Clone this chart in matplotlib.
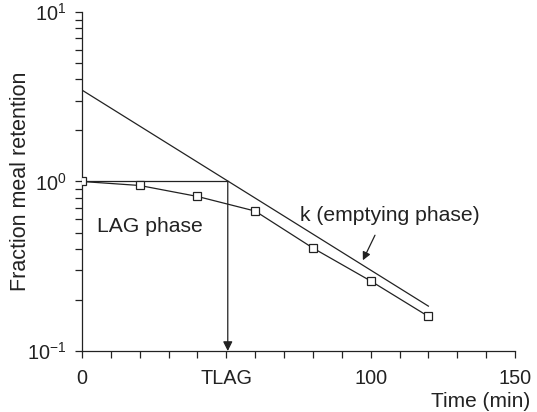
import numpy as np
import matplotlib.pyplot as plt
from matplotlib.ticker import FixedLocator, LogLocator, NullFormatter

plt.rcParams['font.family'] = ['Liberation Sans', 'DejaVu Sans']
plt.rcParams['mathtext.default'] = 'regular'

# measured meal retention
time_min = [0, 20, 40, 60, 80, 100, 120]
retention = [1.0, 0.947, 0.816, 0.669, 0.405, 0.259, 0.160]

# fitted emptying line (end points)
fit_time = [0, 120]
fit_val = [3.46, 0.184]
tlag = 50.5

xticks = [0, 50, 100, 150]
xticklabels = ['0', 'TLAG', '100', '150']

ink = '#222222'

fig = plt.figure(figsize=(5.37, 4.12), dpi=100)
ax = fig.add_axes([0.1527, 0.148, 0.8063, 0.823])

ax.plot(fit_time, fit_val, color=ink, lw=0.9)
ax.plot(time_min, retention, color=ink, lw=0.9, marker='s', ms=6,
        mfc='white', mec=ink, mew=0.9, zorder=3)
ax.plot([0, tlag], [1.0, 1.0], color=ink, lw=0.9)
ax.annotate('', xy=(tlag, 0.1), xytext=(tlag, 1.0),
            arrowprops=dict(arrowstyle='-|>', color=ink, lw=0.9,
                            mutation_scale=14, shrinkA=0, shrinkB=0))
ax.annotate('', xy=(97.3, 0.343), xytext=(101.5, 0.482),
            arrowprops=dict(arrowstyle='-|>', color=ink, lw=0.9,
                            mutation_scale=12, shrinkA=0, shrinkB=0))

ax.text(5.2, 0.544, 'LAG phase', fontsize=15.2, color=ink, ha='left', va='center')
ax.text(75.5, 0.63, 'k (emptying phase)', fontsize=15.2, color=ink,
        ha='left', va='center')

ax.set_yscale('log')
ax.set_xlim(0, 150)
ax.set_ylim(0.1, 10)
ax.xaxis.set_major_locator(FixedLocator(xticks))
ax.set_xticklabels(xticklabels)
ax.xaxis.set_minor_locator(FixedLocator(np.arange(0, 151, 10)))
ax.yaxis.set_major_locator(LogLocator(base=10, numticks=5))
ax.yaxis.set_minor_locator(LogLocator(base=10, subs=np.arange(2, 10), numticks=10))
ax.yaxis.set_minor_formatter(NullFormatter())

for s in ['top', 'right']:
    ax.spines[s].set_visible(False)
for s in ['left', 'bottom']:
    ax.spines[s].set_linewidth(0.9)
    ax.spines[s].set_color(ink)

ax.tick_params(which='both', direction='out', width=0.9, labelsize=14.3,
               color=ink, labelcolor=ink)
ax.tick_params(which='major', length=5)
ax.tick_params(which='minor', length=5)
ax.tick_params(axis='x', which='major', pad=8)
ax.tick_params(axis='y', which='major', pad=6)

ax.text(1.035, -0.15, 'Time (min)', transform=ax.transAxes, fontsize=15,
        color=ink, ha='right', va='center')
ax.text(-0.143, 0.5, 'Fraction meal retention', transform=ax.transAxes,
        fontsize=15.5, color=ink, ha='center', va='center', rotation=90)

fig.savefig('out.png', dpi=100)
